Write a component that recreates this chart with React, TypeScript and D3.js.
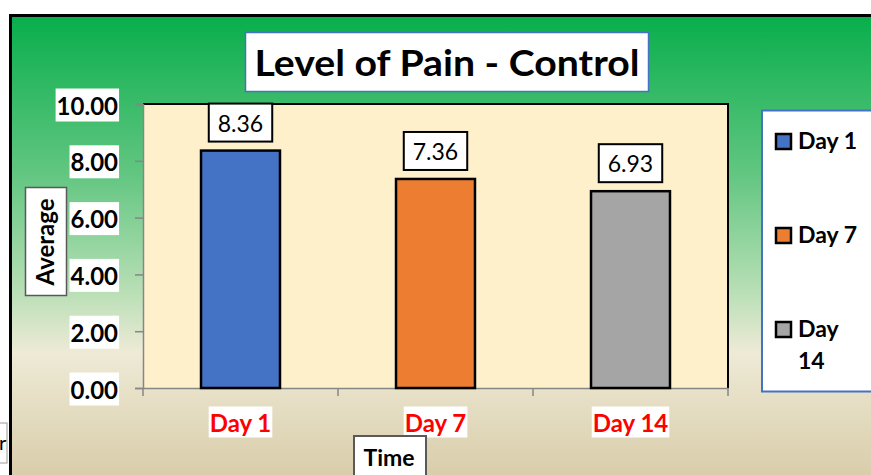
import React, { useEffect, useRef } from "react";
import * as d3 from "d3";

const categories = ["Day 1", "Day 7", "Day 14"];
const values = [8.36, 7.36, 6.93];
const colors = ["#4472c4", "#ed7d31", "#a5a5a5"];
const yTicks = [0, 2, 4, 6, 8, 10];
const legendLines = [["Day 1"], ["Day 7"], ["Day", "14"]];

const W = 871;
const H = 475;
const font = "Lato, 'Noto Sans', sans-serif";

const plot = { left: 143, right: 728, top: 104, bottom: 388 };

const App = () => {
  const ref = useRef<SVGSVGElement>(null);

  useEffect(() => {
    const svg = d3.select(ref.current);
    svg.selectAll("*").remove();

    const x = d3.scaleBand().domain(categories).range([plot.left, plot.right]).padding(0);
    const y = d3.scaleLinear().domain([0, 10]).range([plot.bottom, plot.top]);
    const barW = x.bandwidth() * 0.405;

    // background gradient
    const defs = svg.append("defs");
    const grad = defs
      .append("linearGradient")
      .attr("id", "bg")
      .attr("x1", 0)
      .attr("y1", 0)
      .attr("x2", 0)
      .attr("y2", 1);
    [
      [0, "#08ae4c"],
      [0.32, "#62c681"],
      [0.56, "#b9dfb6"],
      [0.68, "#eeead6"],
      [1, "#d3c59e"],
    ].forEach(([o, c]) => grad.append("stop").attr("offset", o).attr("stop-color", c));

    // stray cell at bottom-left
    svg.append("rect").attr("x", -60).attr("y", 423).attr("width", 67).attr("height", 40)
      .attr("fill", "#fff").attr("stroke", "#999");
    svg.append("text").attr("x", -1).attr("y", 450).attr("font-family", font)
      .attr("font-size", 20).text("r");

    svg.append("rect").attr("x", 10.5).attr("y", 15.5).attr("width", W + 20).attr("height", H + 20)
      .attr("fill", "url(#bg)").attr("stroke", "#000").attr("stroke-width", 3);

    // plot area
    svg.append("rect").attr("x", plot.left).attr("y", plot.top)
      .attr("width", plot.right - plot.left).attr("height", plot.bottom - plot.top)
      .attr("fill", "#fff0cc");
    svg.append("path")
      .attr("d", `M${plot.left},${plot.top}H${plot.right}V${plot.bottom}`)
      .attr("fill", "none").attr("stroke", "#000").attr("stroke-width", 2);

    // axes
    const yAxis = svg.append("g").attr("transform", `translate(${plot.left},0)`)
      .call(d3.axisLeft(y).tickValues(yTicks).tickSize(8).tickFormat(() => ""));
    yAxis.selectAll("path,line").attr("stroke", "#868686").attr("stroke-width", 1.5);
    const xAxis = svg.append("g").attr("transform", `translate(0,${plot.bottom})`)
      .call(d3.axisBottom(x).tickSize(0).tickFormat(() => ""));
    xAxis.selectAll("path").attr("stroke", "#868686").attr("stroke-width", 1.5);
    const bounds = [...categories.map((c) => x(c)!), plot.right];
    svg.selectAll(".xt").data(bounds).join("line")
      .attr("x1", (d) => d).attr("x2", (d) => d)
      .attr("y1", plot.bottom).attr("y2", plot.bottom + 8)
      .attr("stroke", "#868686").attr("stroke-width", 1.5);

    // helper: text with a background box sized to its bbox
    const boxed = (
      g: any,
      txt: string,
      tx: number,
      ty: number,
      anchor: string,
      size: number,
      weight: string,
      fill: string,
      pad: [number, number],
      stroke?: string,
      sw?: number
    ) => {
      const rect = g.append("rect");
      const t = g.append("text").attr("x", tx).attr("y", ty).attr("text-anchor", anchor)
        .attr("dominant-baseline", "central").attr("font-family", font)
        .attr("font-size", size).attr("font-weight", weight).attr("fill", fill).text(txt);
      const b = (t.node() as SVGTextElement).getBBox();
      rect.attr("x", b.x - pad[0]).attr("y", b.y - pad[1])
        .attr("width", b.width + 2 * pad[0]).attr("height", b.height + 2 * pad[1])
        .attr("fill", "#fff").attr("stroke", stroke || "none").attr("stroke-width", sw || 0);
      return t;
    };

    // y tick labels
    yTicks.forEach((v) => {
      boxed(svg.append("g"), d3.format(".2f")(v), 118, y(v) + 1, "end", 24, "bold", "#000", [1, 2]);
    });

    // x tick labels
    categories.forEach((c) => {
      boxed(svg.append("g"), c, x(c)! + x.bandwidth() / 2, 422, "middle", 24, "bold", "#ff0000", [1, 1]);
    });

    // bars
    svg.selectAll(".bar").data(values).join("rect")
      .attr("x", (_, i) => x(categories[i])! + (x.bandwidth() - barW) / 2)
      .attr("y", (d) => y(d))
      .attr("width", barW)
      .attr("height", (d) => y(0) - y(d))
      .attr("fill", (_, i) => colors[i])
      .attr("stroke", "#000").attr("stroke-width", 2.5);

    // value labels
    values.forEach((v, i) => {
      const cx = x(categories[i])! + x.bandwidth() / 2;
      boxed(svg.append("g"), d3.format(".2f")(v), cx, y(v) - 28, "middle", 23, "normal", "#000",
        [9, 5], "#000", 2);
    });

    // title
    const tg = svg.append("g");
    tg.append("rect").attr("x", 245.5).attr("y", 32.5).attr("width", 403).attr("height", 59)
      .attr("fill", "#fff").attr("stroke", "#4472c4").attr("stroke-width", 1.5);
    tg.append("text").attr("x", 447).attr("y", 76).attr("text-anchor", "middle")
      .attr("font-family", font).attr("font-size", 37).attr("font-weight", "bold")
      .attr("textLength", 385).attr("lengthAdjust", "spacingAndGlyphs")
      .text("Level of Pain - Control");

    // y axis title
    const ag = svg.append("g");
    ag.append("rect").attr("x", 25.5).attr("y", 187.5).attr("width", 41).attr("height", 108)
      .attr("fill", "#fff").attr("stroke", "#595959").attr("stroke-width", 1.5);
    ag.append("text").attr("transform", "translate(54,242) rotate(-90)")
      .attr("text-anchor", "middle").attr("font-family", font).attr("font-size", 24)
      .attr("font-weight", "bold").text("Average");

    // x axis title
    const xg = svg.append("g");
    xg.append("rect").attr("x", 354).attr("y", 436).attr("width", 72).attr("height", 60)
      .attr("fill", "#fff").attr("stroke", "#595959").attr("stroke-width", 2);
    xg.append("text").attr("x", 389).attr("y", 466).attr("text-anchor", "middle")
      .attr("font-family", font).attr("font-size", 23).attr("font-weight", "bold").text("Time");

    // legend
    const lg = svg.append("g");
    lg.append("rect").attr("x", 762).attr("y", 110.5).attr("width", 120).attr("height", 281)
      .attr("fill", "#fff").attr("stroke", "#4472c4").attr("stroke-width", 2);
    legendLines.forEach((lines, i) => {
      const top = 134 + i * 94;
      lg.append("rect").attr("x", 776).attr("y", top).attr("width", 15).attr("height", 15)
        .attr("fill", colors[i]).attr("stroke", "#000").attr("stroke-width", 2.5);
      lines.forEach((ln, j) => {
        lg.append("text").attr("x", 798).attr("y", top + 15 + j * 32)
          .attr("font-family", font).attr("font-size", 23).attr("font-weight", "bold")
          .text(ln);
      });
    });
  }, []);

  return (
    <svg
      ref={ref}
      width={W}
      height={H}
      style={{ position: "absolute", left: 0, top: 0, background: "#fff" }}
    />
  );
};

export default App;
